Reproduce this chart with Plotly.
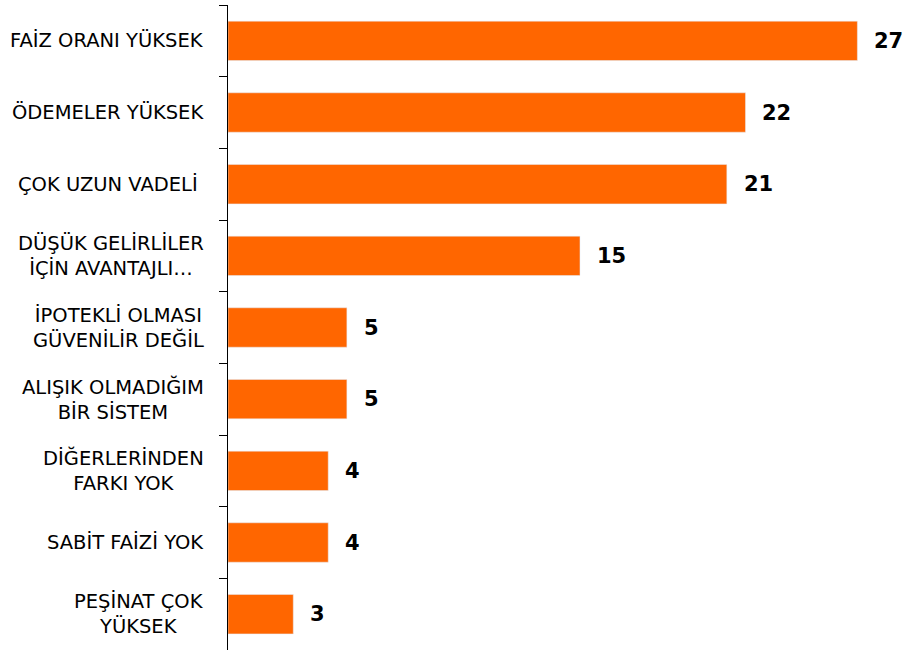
import plotly.graph_objects as go

categories = [
    "FAİZ ORANI YÜKSEK",
    "ÖDEMELER YÜKSEK",
    "ÇOK UZUN VADELİ ",
    "DÜŞÜK GELİRLİLER<br>İÇİN AVANTAJLI…",
    "İPOTEKLİ OLMASI<br>GÜVENİLİR DEĞİL",
    "ALIŞIK OLMADIĞIM<br>BİR SİSTEM",
    "DİĞERLERİNDEN<br>FARKI YOK",
    "SABİT FAİZİ YOK",
    "PEŞİNAT ÇOK<br>YÜKSEK",
]
values = [27.0, 22.2, 21.4, 15.1, 5.1, 5.1, 4.3, 4.3, 2.8]

font_family = "'DejaVu Sans', sans-serif"

fig = go.Figure()
fig.add_trace(go.Bar(
    x=values,
    y=categories,
    orientation="h",
    marker=dict(color="#FF6600"),
    hoverinfo="skip",
))

annotations = []
for c, v in zip(categories, values):
    annotations.append(dict(
        x=0, xref="paper", y=c, yref="y",
        text=c, showarrow=False, xanchor="right", align="center",
        xshift=-22,
        font=dict(family=font_family, size=19.5, color="#000000"),
    ))
    annotations.append(dict(
        x=v, xref="x", y=c, yref="y",
        text=f"<b>{v:.0f}</b>", showarrow=False, xanchor="left",
        xshift=15,
        font=dict(family=font_family, size=21, color="#000000"),
    ))

fig.update_layout(
    width=904, height=655,
    margin=dict(l=228, r=0, t=5, b=5, autoexpand=False),
    paper_bgcolor="white", plot_bgcolor="white",
    bargap=0.45,
    showlegend=False,
    annotations=annotations,
    xaxis=dict(range=[0, 29], visible=False, fixedrange=True, automargin=False),
    yaxis=dict(
        categoryorder="array", categoryarray=categories,
        autorange="reversed",
        showticklabels=False,
        automargin=False,
        fixedrange=True,
        showline=True, linecolor="#000000", linewidth=1,
        ticks="outside", ticklen=8, tickcolor="#000000", tickwidth=1,
        tickson="boundaries",
        showgrid=False, zeroline=False,
    ),
)

fig.write_html(
    "out.html",
    config={"displayModeBar": False, "staticPlot": True},
    post_script="document.body.style.margin='0';document.body.style.overflow='hidden';",
)
